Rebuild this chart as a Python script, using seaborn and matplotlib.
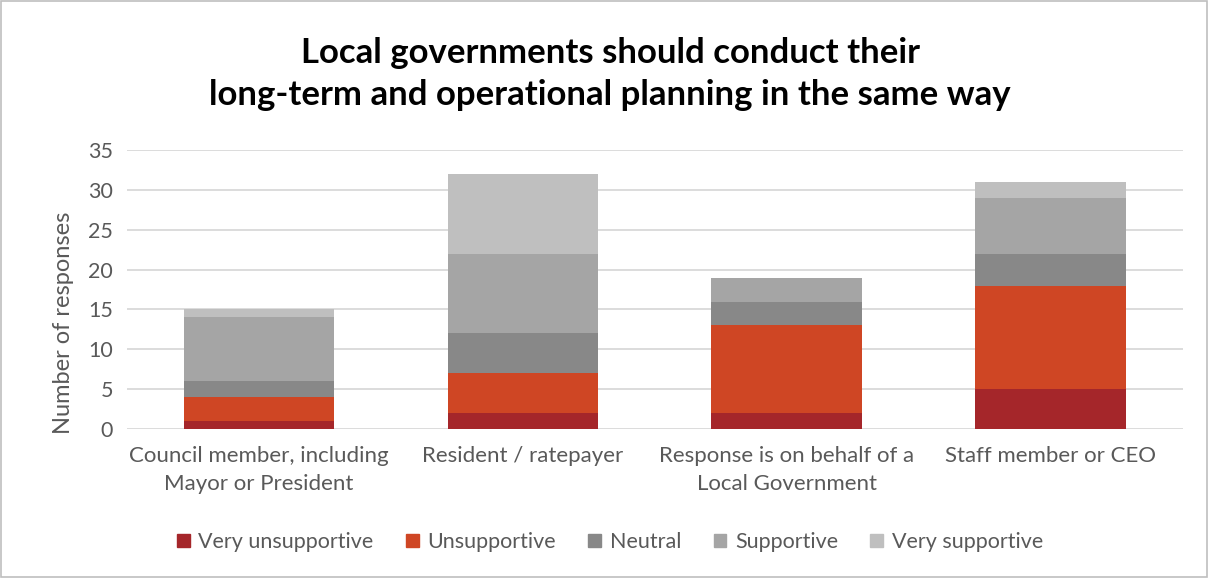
import numpy as np
import pandas as pd
import matplotlib.pyplot as plt
import seaborn as sns
from matplotlib.patches import Patch

sns.set_style('white')
plt.rcParams['font.family'] = ['Lato', 'DejaVu Sans']

categories = ['Council member, including\nMayor or President', 'Resident / ratepayer',
              'Response is on behalf of a\nLocal Government', 'Staff member or CEO']
levels = ['Very unsupportive', 'Unsupportive', 'Neutral', 'Supportive', 'Very supportive']
very_unsupportive = [1, 2, 2, 5]
unsupportive = [3, 5, 11, 13]
neutral = [2, 5, 3, 4]
supportive = [8, 10, 3, 7]
very_supportive = [1, 10, 0, 2]
colors = ['#A5262A', '#CF4624', '#888888', '#A5A5A5', '#BFBFBF']

df = pd.DataFrame({'category': categories,
                   'Very unsupportive': very_unsupportive,
                   'Unsupportive': unsupportive,
                   'Neutral': neutral,
                   'Supportive': supportive,
                   'Very supportive': very_supportive})
cum = df[levels].cumsum(axis=1)

fig = plt.figure(figsize=(12.08, 5.78), dpi=100)
ax = fig.add_axes([0.105, 0.258, 0.874, 0.482])

# stacked bars: draw cumulative totals, tallest first
for lvl, col in reversed(list(zip(levels, colors))):
    sns.barplot(x=df['category'], y=cum[lvl], color=col, width=0.57,
                saturation=1, linewidth=0, ax=ax, zorder=2)

ax.set_ylim(0, 35)
ax.set_yticks(range(0, 36, 5))
ax.grid(axis='y', color='#D9D9D9', linewidth=1.3, zorder=0)
ax.set_axisbelow(True)
sns.despine(ax=ax, left=True, bottom=True)
ax.tick_params(axis='both', length=0, labelsize=15.5, colors='#595959', pad=10)
ax.tick_params(axis='x', pad=12, labelsize=16)
ax.set_xlabel('')
ax.set_ylabel('Number of responses', fontsize=17, color='#595959')
ax.yaxis.set_label_coords(-0.05, 0.38)
for t in ax.get_xticklabels():
    t.set_linespacing(1.5)

fig.text(0.505, 0.872, 'Local governments should conduct their\nlong-term and operational planning in the same way',
         ha='center', va='center', fontsize=25, fontweight='bold', color='#000000', linespacing=1.4)

handles = [Patch(color=c, label=l) for l, c in zip(levels, colors)]
fig.legend(handles=handles, loc='center', bbox_to_anchor=(0.505, 0.062), ncol=5,
           frameon=False, fontsize=15.5, handlelength=0.6, handleheight=0.6,
           handletextpad=0.4, columnspacing=1.5, labelcolor='#595959')

fig.patches.append(plt.Rectangle((0.001, 0.002), 0.998, 0.996, transform=fig.transFigure,
                                 fill=False, edgecolor='#BFBFBF', linewidth=1.2))

fig.savefig('out.png', dpi=100)
